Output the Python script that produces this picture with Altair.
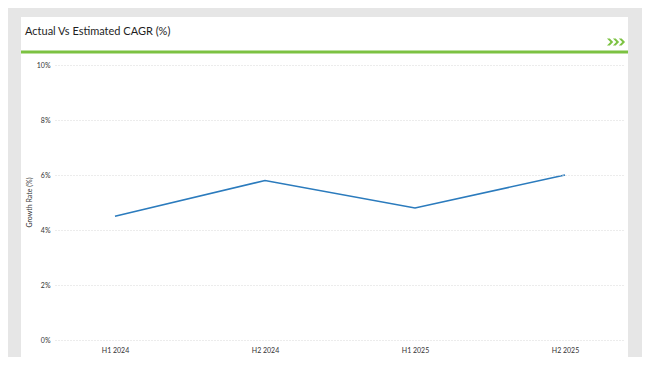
import altair as alt
import pandas as pd

periods = ["H1 2024", "H2 2024", "H1 2025", "H2 2025"]
growth = [4.5, 5.8, 4.8, 6.0]
y_ticks = [0, 2, 4, 6, 8, 10]
title_text = "Actual Vs Estimated CAGR (%)"
y_title = "Growth Rate (%)"

df = pd.DataFrame({"period": periods, "growth": growth})
one = pd.DataFrame({"k": [0]})

FONT = "Lato"


def chevrons(step=0.95, t=0.45, h=0.55):
    parts = []
    for i in range(3):
        o = -1.45 + i * step
        parts.append(
            f"M{o:.2f},{-h} L{o + t:.2f},{-h} L{o + 1.0:.2f},0 "
            f"L{o + t:.2f},{h} L{o:.2f},{h} L{o + 0.55:.2f},0 Z"
        )
    return " ".join(parts)


panel = alt.Chart(one).mark_rect(color="white").encode(
    x=alt.value(-34), x2=alt.value(573), y=alt.value(-48), y2=alt.value(292)
)
green = alt.Chart(one).mark_rect(color="#7cc242").encode(
    x=alt.value(-34), x2=alt.value(573), y=alt.value(-14.5), y2=alt.value(-11.5)
)
title = alt.Chart(one).mark_text(
    text=title_text, align="left", baseline="middle", font=FONT,
    fontSize=11, color="#1e1e1e"
).encode(x=alt.value(-30), y=alt.value(-33))
chev = alt.Chart(one).mark_point(
    shape=chevrons(), filled=True, color="#7cc242", size=155, opacity=1,
    strokeWidth=0
).encode(x=alt.value(561), y=alt.value(-23))

line = alt.Chart(df).mark_line(color="#2b7bbd", strokeWidth=1.6).encode(
    x=alt.X(
        "period:N", sort=periods,
        scale=alt.Scale(type="point", padding=0.4),
        axis=alt.Axis(title=None, grid=False, domain=False, ticks=False,
                      labelAngle=0, labelPadding=6, labelFontSize=7,
                      labelFont=FONT, labelColor="#333333", zindex=1),
    ),
    y=alt.Y(
        "growth:Q",
        scale=alt.Scale(domain=[0, 10], nice=False),
        axis=alt.Axis(values=y_ticks, labelExpr="datum.value + '%'",
                      title=y_title, titleFontSize=7, titleFont=FONT,
                      titleFontWeight="normal", titleColor="#333333",
                      titleX=-26, titleY=137, titleAngle=-90,
                      titleAlign="center", titleBaseline="middle",
                      domain=False, ticks=False, labelPadding=5,
                      labelFontSize=7, labelFont=FONT, labelColor="#333333",
                      grid=True, gridColor="#d9d9d9", gridDash=[1, 2],
                      gridWidth=1, zindex=1),
    ),
)

chart = alt.layer(panel, green, title, chev, line).properties(
    width=570, height=275,
    autosize=alt.AutoSizeParams(type="none"),
    padding={"left": 47, "top": 57, "right": 17, "bottom": 17},
    background="#e6e6e6",
).configure_view(stroke=None)

chart.save("out.html", embed_options={"renderer": "svg", "actions": False})
